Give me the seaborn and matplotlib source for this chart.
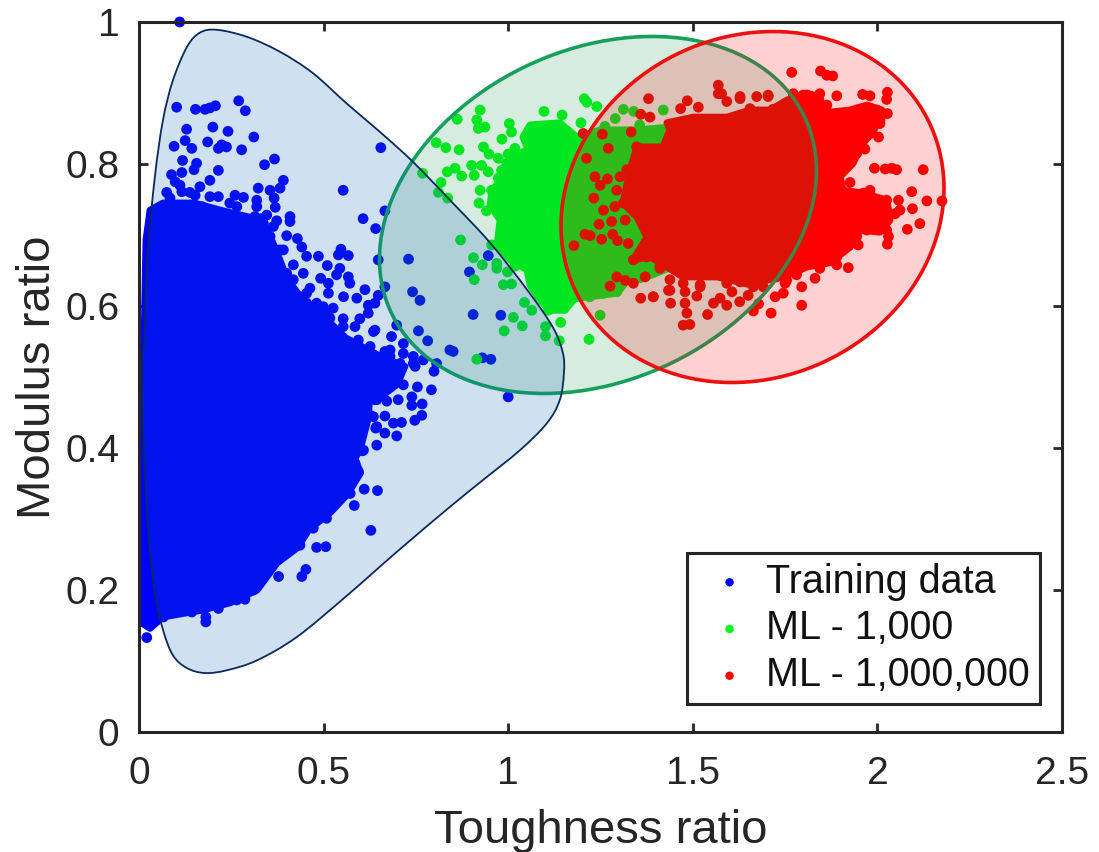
import matplotlib
matplotlib.use('Agg')
import matplotlib.pyplot as plt
import numpy as np
import pandas as pd
import seaborn as sns
from matplotlib.colors import to_rgba
from matplotlib.patches import Ellipse, PathPatch
from matplotlib.path import Path

x_ticks = [0, 0.5, 1, 1.5, 2, 2.5]
x_tick_labels = ['0', '0.5', '1', '1.5', '2', '2.5']
y_ticks = [0, 0.2, 0.4, 0.6, 0.8, 1]
y_tick_labels = ['0', '0.2', '0.4', '0.6', '0.8', '1']

# solid part of each cloud, too dense to read single points
blue_core = [(.019, .693), (.030, .735), (.065, .745), (.150, .745), (.220, .735), (.300, .725), (.345, .710),
             (.370, .680), (.400, .640), (.440, .610), (.500, .585), (.560, .555), (.650, .530), (.720, .515),
             (.700, .490), (.650, .470), (.625, .470), (.620, .440), (.600, .400), (.585, .385), (.600, .365),
             (.565, .335), (.520, .310), (.460, .285), (.430, .260), (.374, .238), (.320, .200), (.247, .182),
             (.174, .172), (.065, .162), (.030, .146), (.003, .155), (0, .155), (0, .25), (.003, .40), (.012, .50)]
green_core = [(1.040, .838), (1.059, .855), (1.140, .858), (1.186, .838), (1.249, .848), (1.349, .848),
              (1.438, .852), (1.473, .855), (1.519, .749), (1.492, .665), (1.357, .637), (1.338, .646),
              (1.295, .618), (1.222, .613), (1.181, .611), (1.154, .594), (1.113, .594), (1.086, .608),
              (1.059, .630), (1.051, .651), (1.005, .665), (.970, .686), (.978, .721), (.951, .742),
              (.956, .763), (1.005, .792), (1.018, .813), (1.054, .820)]
red_core = [(1.430, .858), (1.501, .866), (1.593, .866), (1.655, .876), (1.709, .876), (1.755, .890),
            (1.809, .900), (1.845, .894), (1.853, .872), (1.926, .876), (1.972, .883), (2.012, .876),
            (1.988, .844), (1.961, .830), (1.934, .801), (1.899, .782), (1.907, .763), (1.961, .759),
            (2.026, .749), (2.034, .721), (2.007, .704), (1.953, .707), (1.926, .683), (1.872, .661),
            (1.809, .655), (1.771, .646), (1.655, .630), (1.566, .641), (1.473, .641), (1.411, .661),
            (1.384, .669), (1.338, .665), (1.376, .697), (1.349, .725), (1.311, .745), (1.330, .792),
            (1.349, .824), (1.419, .824), (1.438, .848)]

# single points outside the solid part
blue_dots = [(.11, 1.0), (.102, .880), (.153, .877), (.179, .877), (.192, .879), (.207, .882), (.270, .889),
             (.288, .875), (.129, .849), (.200, .852), (.241, .846), (.311, .838), (.125, .833), (.095, .825),
             (.143, .822), (.186, .831), (.224, .827), (.215, .822), (.237, .824), (.278, .820), (.655, .823),
             (.367, .807), (.340, .799), (.118, .805), (.156, .801), (.149, .792), (.215, .791), (.116, .788),
             (.192, .777), (.391, .777), (.382, .766), (.553, .763), (.323, .766), (.355, .763), (.260, .756),
             (.283, .753), (.319, .749), (.366, .752), (.319, .740), (.369, .739), (.666, .734), (.409, .726),
             (.607, .723), (.641, .709), (.409, .719), (.373, .720), (.346, .728), (.314, .726), (.400, .699),
             (.429, .695), (.441, .683), (.391, .679), (.547, .680), (.567, .671), (.540, .672), (.486, .670),
             (.454, .670), (.418, .658), (.445, .646), (.510, .657), (.544, .653), (.648, .665), (.730, .666),
             (.535, .644), (.567, .641), (.571, .632), (.492, .639), (.513, .632), (.513, .618), (.612, .623),
             (.666, .627), (.648, .615), (.741, .620), (.761, .608), (.639, .604), (.554, .613), (.590, .611),
             (.621, .601), (.621, .590), (.598, .582), (.526, .597), (.553, .582), (.585, .571), (.635, .564),
             (.684, .557), (.698, .573), (.757, .565), (.782, .551), (.594, .552), (.626, .543), (.666, .536),
             (.716, .547), (.716, .533), (.743, .529), (.770, .524), (.842, .538), (.806, .519), (.454, .618),
             (.481, .604), (.436, .599), (.504, .592), (.946, .671), (.895, .648), (.905, .588), (.980, .587),
             (.851, .536), (.930, .527), (.953, .525), (.799, .508), (.792, .482), (.754, .486), (1.000, .472),
             (.748, .515), (.716, .489), (.689, .499), (.680, .538), (.639, .566), (.626, .510), (.662, .491),
             (.644, .489), (.671, .466), (.702, .468), (.739, .472), (.767, .462), (.739, .460), (.766, .446),
             (.747, .439), (.711, .436), (.689, .435), (.666, .445), (.698, .417), (.666, .421), (.644, .404),
             (.641, .428), (.605, .396), (.610, .342), (.646, .340), (.583, .319), (.628, .284), (.506, .261),
             (.481, .260), (.452, .229), (.441, .219), (.378, .219), (.287, .187), (.181, .162), (.181, .155),
             (.021, .133), (.626, .446), (.639, .468), (.605, .477)]
blue_edge_dots = [(.088, .785), (.075, .760), (.098, .775), (.111, .770), (.116, .761), (.061, .735), (.093, .740),
                  (.084, .752), (.138, .760), (.165, .768), (.152, .756), (.192, .754), (.215, .754), (.170, .740),
                  (.192, .731), (.219, .728), (.246, .745), (.265, .740), (.233, .723), (.256, .716), (.283, .723),
                  (.310, .723), (.337, .716), (.364, .712), (.332, .723), (.355, .698), (.323, .707), (.382, .679),
                  (.373, .660), (.400, .646), (.418, .637), (.436, .613), (.463, .625), (.454, .604), (.499, .599),
                  (.517, .583), (.553, .571), (.572, .547), (.608, .529), (.644, .524), (.680, .529), (.707, .519),
                  (.743, .519), (.644, .505), (.662, .500), (.689, .515), (.626, .491), (.599, .477), (.608, .460),
                  (.644, .468), (.635, .444), (.608, .430), (.644, .430), (.590, .411), (.608, .397), (.562, .385),
                  (.585, .378), (.594, .367), (.572, .355), (.572, .336), (.544, .336), (.526, .320), (.508, .301),
                  (.472, .287), (.436, .263), (.409, .261), (.350, .227), (.310, .200), (.265, .186), (.215, .174),
                  (.143, .169), (.066, .162)]
green_dots = [(1.206, .892), (1.213, .887), (1.240, .881), (.924, .876), (1.097, .874), (1.146, .869), (.862, .863),
              (.915, .862), (1.003, .857), (.937, .852), (.919, .850), (1.197, .858), (1.009, .845), (.983, .835),
              (.805, .830), (.831, .823), (.867, .820), (.933, .824), (1.018, .822), (1.000, .814), (.948, .814),
              (.973, .808), (.901, .798), (.928, .798), (.946, .789), (.835, .789), (.856, .794), (.874, .783),
              (.908, .784), (.768, .787), (.818, .774), (.973, .780), (.811, .760), (.836, .752), (.924, .763),
              (.921, .745), (.941, .734), (.955, .763), (.987, .759), (.969, .749), (.996, .730), (.982, .740),
              (.871, .693), (.906, .668), (.930, .658), (.969, .660), (.969, .653), (.908, .637), (1.018, .656),
              (.998, .648), (.987, .630), (1.009, .631), (1.044, .605), (1.064, .594), (1.014, .584), (1.038, .572),
              (.989, .565), (1.101, .571), (1.101, .558), (1.138, .551), (1.142, .577), (1.219, .553), (1.249, .587),
              (.915, .525), (.955, .686), (.982, .683), (.992, .700), (1.023, .693), (1.050, .679), (1.059, .651),
              (1.086, .646), (1.068, .627), (1.113, .622), (1.108, .594), (1.149, .599), (1.177, .613), (1.131, .632),
              (1.290, .864), (1.312, .877), (1.340, .874), (1.420, .876), (1.356, .855), (1.262, .853)]
green_edge_dots = [(1.050, .838), (1.068, .850), (1.113, .850), (1.059, .827), (1.086, .829), (1.023, .801),
                   (.996, .801), (.982, .791), (1.005, .777), (.987, .763), (.960, .763), (.969, .749), (.982, .735),
                   (1.005, .726), (1.014, .712), (.987, .698), (1.023, .688), (1.050, .684), (1.086, .669),
                   (1.104, .660), (1.059, .651), (1.095, .646), (1.113, .627), (1.131, .613), (1.158, .622),
                   (1.185, .613), (1.149, .604), (1.221, .613), (1.258, .618), (1.294, .620)]
red_dots = [(1.380, .892), (1.359, .870), (1.384, .866), (1.333, .845), (1.255, .842), (1.203, .843), (1.271, .822),
            (1.212, .808), (1.235, .782), (1.249, .770), (1.269, .779), (1.294, .763), (1.232, .752), (1.258, .735),
            (1.289, .740), (1.280, .719), (1.246, .715), (1.317, .721), (1.208, .701), (1.222, .699), (1.178, .685),
            (1.253, .694), (1.283, .701), (1.296, .692), (1.325, .688), (1.294, .641), (1.317, .636), (1.276, .628),
            (1.339, .632), (1.371, .641), (1.359, .611), (1.393, .613), (1.434, .622), (1.768, .929), (1.846, .931),
            (1.863, .925), (1.879, .924), (1.569, .911), (1.578, .899), (1.485, .889), (1.467, .878), (1.515, .880),
            (1.628, .895), (1.704, .897), (1.717, .877), (1.890, .896), (1.960, .898), (1.980, .896), (2.027, .901),
            (2.025, .891), (2.027, .871), (2.007, .857), (2.003, .838), (1.966, .821), (1.863, .883), (1.992, .794),
            (2.021, .793), (2.039, .794), (2.052, .792), (2.124, .792), (2.093, .761), (2.057, .749), (2.134, .748),
            (2.175, .748), (2.095, .737), (2.061, .735), (2.048, .730), (2.115, .716), (2.081, .708), (1.926, .774),
            (1.980, .763), (2.027, .687), (2.030, .698), (1.948, .686), (1.921, .654), (1.890, .658), (1.844, .653),
            (1.831, .639), (1.795, .627), (1.795, .601), (1.745, .618), (1.723, .613), (1.712, .590), (1.678, .603),
            (1.664, .593), (1.650, .615), (1.627, .606), (1.592, .601), (1.606, .620), (1.574, .611), (1.556, .604),
            (1.540, .588), (1.492, .574), (1.474, .573), (1.484, .590), (1.479, .604), (1.440, .604), (1.393, .613),
            (1.438, .622), (1.511, .614), (1.479, .620), (1.520, .627), (1.700, .646), (1.673, .651), (1.628, .634),
            (1.592, .637), (1.664, .627), (1.655, .641), (1.691, .627), (1.750, .632), (1.781, .644)]
red_edge_dots = [(1.569, .899), (1.592, .888), (1.628, .892), (1.673, .895), (1.704, .895), (1.655, .878), (1.772, .899),
                 (1.799, .897), (1.826, .890), (1.844, .899), (1.808, .876), (1.835, .867), (1.944, .876), (1.926, .869),
                 (1.971, .876), (1.998, .876), (1.980, .867), (2.007, .862), (1.980, .843), (1.962, .834), (1.944, .815),
                 (1.926, .801), (1.953, .848), (1.962, .759), (1.998, .749), (2.025, .749), (2.016, .735), (1.998, .712),
                 (2.025, .707), (1.971, .707), (1.944, .698), (1.926, .688), (1.890, .669), (1.854, .665), (1.808, .660),
                 (1.781, .646), (1.754, .636), (1.727, .641), (1.696, .644), (1.655, .636), (1.610, .641), (1.592, .632),
                 (1.520, .630), (1.438, .637), (1.474, .632), (1.411, .653), (1.348, .824), (1.375, .820), (1.321, .792),
                 (1.303, .782), (1.312, .745), (1.339, .665), (1.375, .669), (1.411, .655)]

# outline round the training data
blue_outline = [(.211, .989), (.293, .979), (.382, .958), (.471, .928), (.563, .885), (.653, .845), (.742, .803),
                (.850, .745), (.951, .689), (1.051, .623), (1.121, .570), (1.148, .534), (1.151, .506), (1.140, .468),
                (1.105, .435), (1.032, .397), (.932, .355), (.842, .317), (.699, .254), (.563, .192),
                (.428, .134), (.320, .101), (.238, .087), (.179, .083), (.130, .090), (.092, .108), (.065, .144),
                (.043, .196), (.024, .289), (.011, .430), (.008, .524), (.014, .548), (.022, .665), (.043, .782),
                (.065, .862), (.092, .918), (.130, .965), (.165, .985)]


def smooth_closed_path(points):
    # catmull-rom through the outline, written as bezier segments
    p = np.array(points)
    n = len(p)
    verts = [p[0]]
    codes = [Path.MOVETO]
    for i in range(n):
        p0, p1, p2, p3 = p[i - 1], p[i], p[(i + 1) % n], p[(i + 2) % n]
        verts += [p1 + (p2 - p0) / 6, p2 - (p3 - p1) / 6, p2]
        codes += [Path.CURVE4] * 3
    return Path(verts, codes)


def dots_frame(points):
    return pd.DataFrame(points, columns=['toughness', 'modulus'])


sns.set_theme(style='ticks')
plt.rcParams['font.family'] = ['Liberation Sans', 'DejaVu Sans']

fig = plt.figure(figsize=(10.99, 8.52), dpi=100)
ax = fig.add_axes([139 / 1099, 1 - 732 / 852, 923 / 1099, 710 / 852])

dark = '#262626'
dot_size = 60
series = [(blue_dots + blue_edge_dots, blue_core, '#0000ff', 'Training data', 2.0),
          (green_dots + green_edge_dots, green_core, '#00f81c', 'ML - 1,000', 2.1),
          (red_dots + red_edge_dots, red_core, '#ff0000', 'ML - 1,000,000', 2.2)]
for dots, core, color, name, z in series:
    ax.fill(*zip(*core), color=color, lw=5, joinstyle='round', zorder=z)
    sns.scatterplot(data=dots_frame(dots), x='toughness', y='modulus', ax=ax, color=color, s=dot_size,
                    edgecolor='none', label=name, zorder=z, clip_on=False)

ax.add_patch(Ellipse((1.2432, .7282), 1.1915, .484, angle=7.19, fc=to_rgba('#008a3c', .16),
                     ec='#16a05c', lw=2.6, zorder=3))
ax.add_patch(PathPatch(smooth_closed_path(blue_outline), fc=to_rgba('#0f64b4', .2),
                       ec='#0b2a5b', lw=1.3, zorder=3.2))
ax.add_patch(Ellipse((1.6617, .7394), 1.0391, .4907, angle=3.76, fc=to_rgba('#ff0000', .18),
                     ec='#ec1010', lw=2.6, zorder=3.4))

ax.set_xlim(0, 2.5)
ax.set_ylim(0, 1)
ax.set_xticks(x_ticks, x_tick_labels)
ax.set_yticks(y_ticks, y_tick_labels)
ax.tick_params(direction='in', top=True, right=True, length=6.5, width=2, labelsize=28,
               color=dark, labelcolor=dark, pad=14)
ax.tick_params(axis='x', pad=17)
for side in ax.spines.values():
    side.set_visible(True)
    side.set_linewidth(2.2)
    side.set_color(dark)
    side.set_zorder(6)
ax.set_xlabel('Toughness ratio', fontsize=34, color=dark, labelpad=12.5)
ax.set_ylabel('Modulus ratio', fontsize=34, color=dark, labelpad=4)

leg = ax.legend(loc='lower left', bbox_to_anchor=((687 - 139) / 923, (732 - 704) / 710), fontsize=28.5,
                frameon=True, fancybox=False, framealpha=1, edgecolor=dark, borderaxespad=0,
                borderpad=.25, labelspacing=.22, handletextpad=.1, handlelength=1.65, markerscale=.78)
leg.get_frame().set_linewidth(2.2)
leg.set_zorder(7)
for text in leg.get_texts():
    text.set_color('#111111')

fig.savefig('out.png', dpi=100)
